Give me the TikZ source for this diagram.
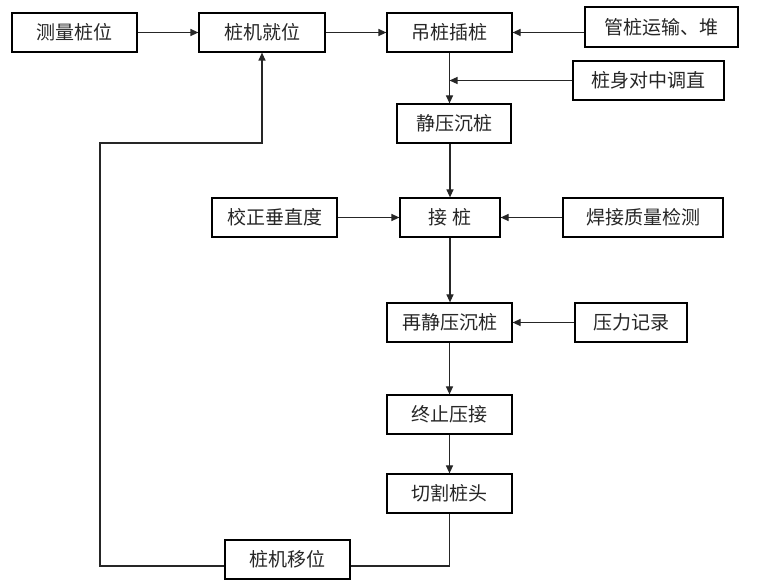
\documentclass[tikz,border=0pt]{standalone}
\usepackage{fontspec}
\newfontfamily\cjk{Noto Sans CJK SC}
\usetikzlibrary{arrows.meta}
\tikzset{
  box/.style={draw=black, line width=1.2pt, rectangle, inner sep=0pt, minimum height=39pt, font=\cjk\fontsize{19}{22}\selectfont, text=black!85},
  arr/.style={draw=black!85, line width=1.2pt, -{Triangle[length=8pt,width=7pt]}},
  ln/.style={draw=black!85, line width=1.2pt}
}
\begin{document}
\begin{tikzpicture}[x=1pt,y=-1pt]
\useasboundingbox[fill=white] (0,0) rectangle (780,585);
\node[box, minimum width=125pt] (measure) at (74.5,32.5) {测量桩位};
\node[box, minimum width=126pt] (pos) at (262,32.5) {桩机就位};
\node[box, minimum width=125pt] (hang) at (449.5,32.5) {吊桩插桩};
\node[box, minimum width=153pt, minimum height=40pt] (transport) at (661.5,27) {管桩运输、堆};
\node[box, minimum width=151pt] (align) at (648.5,80.5) {桩身对中调直};
\node[box, minimum width=114pt] (press1) at (454,123.5) {静压沉桩};
\node[box, minimum width=100pt] (jie) at (450,217.5) {接\ 桩};
\node[box, minimum width=125pt] (vert) at (274.5,217.5) {校正垂直度};
\node[box, minimum width=160pt] (weld) at (643,217.5) {焊接质量检测};
\node[box, minimum width=125pt] (press2) at (449.5,322.5) {再静压沉桩};
\node[box, minimum width=112pt] (rec) at (631,322.5) {压力记录};
\node[box, minimum width=125pt] (stop) at (449.5,414.5) {终止压接};
\node[box, minimum width=125pt] (cut) at (449.5,493.5) {切割桩头};
\node[box, minimum width=125pt] (move) at (287.5,559.5) {桩机移位};
\coordinate (c1) at (100,143);
\coordinate (c2) at (100,566);

\draw[arr] (measure) -- (pos);
\draw[arr] (pos) -- (hang);
\draw[arr] (hang.east -| transport.west) -- (hang.east);
\draw[arr] (hang.south) -- (hang.south |- press1.north);
\draw[arr] (align.west) -- (hang.south |- align.west);
\draw[arr] (jie.north |- press1.south) -- (jie.north);
\draw[arr] (vert.east) -- (jie.west);
\draw[arr] (weld.west) -- (jie.east);
\draw[arr] (jie.south) -- (jie.south |- press2.north);
\draw[arr] (rec.west) -- (press2.east);
\draw[arr] (press2.south) -- (stop.north);
\draw[arr] (stop.south) -- (cut.north);
\draw[ln] (cut.south) -- (cut.south |- c2) -- (move.east |- c2);
\draw[arr] (move.west |- c2) -- (c2) -- (c1) -- (c1 -| pos.south) -- (pos.south);
\end{tikzpicture}
\end{document}
